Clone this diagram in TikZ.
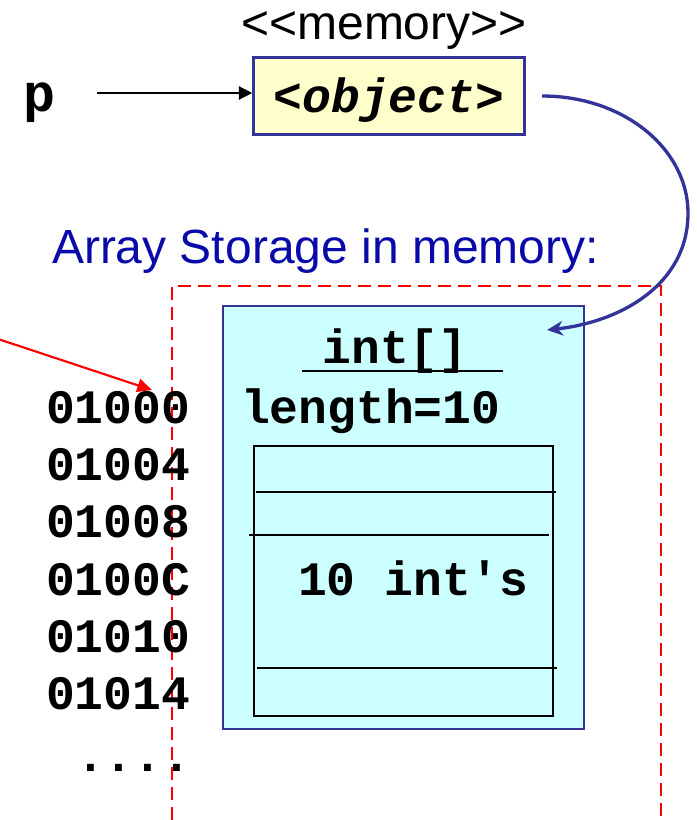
\documentclass[tikz,border=0pt]{standalone}
\usepackage{fontspec}
\setmainfont{Liberation Sans}
\newfontfamily\cour{Liberation Mono}
\usetikzlibrary{arrows.meta}
\definecolor{boxblue}{RGB}{51,51,153}
\definecolor{textblue}{RGB}{10,10,170}
\definecolor{ylw}{RGB}{255,255,204}
\definecolor{cyn}{RGB}{204,255,255}
\newcommand\codefont{\cour\bfseries\fontsize{36}{40}\selectfont}
\newcommand\objfont{\cour\bfseries\itshape\fontsize{36}{40}\selectfont}
\newcommand\bigcodefont{\cour\bfseries\fontsize{40}{44}\selectfont}
\newcommand\sansfont{\fontsize{36}{40}\selectfont}
\begin{document}
\begin{tikzpicture}[x=0.75pt,y=-0.75pt,
  txt/.style={inner sep=0pt, outer sep=0pt},
  code/.style={txt, font=\codefont},
  addr/.style={code, anchor=base west},
  cell/.style={line width=1.5pt, black}]
\useasboundingbox (0,0) rectangle (696,820);
\clip (0,0) rectangle (696,820);

% stereotype and object box
\node[txt, anchor=base, font=\sansfont] (mem) at (384,40) {<{}<memory>{}>};
\node[draw=boxblue, line width=2.2pt, fill=ylw, minimum width=203pt, minimum height=58pt, inner sep=0pt] (obj) at (389,96) {};
\node[txt, anchor=base, font=\objfont] (objtxt) at (389,113) {<object>};

% pointer p
\node[txt, anchor=base, font=\bigcodefont] (p) at (40,112) {p};
\coordinate (ps) at (97,93);
\draw[line width=1pt, -{Triangle[length=10pt,width=10pt]}] (ps) -- (obj.west |- ps);

% caption
\node[txt, anchor=base west, font=\sansfont, text=textblue] (cap) at (52,263) {Array Storage in memory:};

% dashed memory region
\draw[red, line width=1.9pt, dash pattern=on 10pt off 5pt] (172,900) |- (661,286) -- (661,900);

% array object box
\node[draw=boxblue, line width=1.5pt, fill=cyn, minimum width=270.75pt, minimum height=317.25pt, inner sep=0pt] (arr) at (403.5,517.5) {};
\node[code, anchor=base] (type) at (395,363) {int[]};
\draw[line width=1.6pt] (302,371) -- (503,371);
\node[code, anchor=base west] (len) at (241,423) {length=10};
\node[draw, line width=1.5pt, minimum width=224.25pt, minimum height=202.5pt, inner sep=0pt] (cells) at (403.5,581) {};
\draw[cell] (256,492) -- (556,492);
\draw[cell] (249,535) -- (549,535);
\draw[cell] (257,668) -- (557,668);
\node[code, anchor=base west] (ints) at (298,595) {10 int\textquotesingle s};

% addresses
\node[addr] (a0) at (46,423) {01000};
\node[addr] (a1) at (46,480) {01004};
\node[addr] (a2) at (46,537) {01008};
\node[addr] (a3) at (46,595) {0100C};
\node[addr] (a4) at (46,652) {01010};
\node[addr] (a5) at (46,709) {01014};
\node[addr] (a6) at (76,771) {....};

% reference curve
\coordinate (cs) at (542,96);
\coordinate (ce) at (547,330);
\draw[boxblue, line width=2.5pt, -{Stealth[length=12pt,width=11pt]}] (cs) .. controls (625,96) and (688,150) .. (688,213) .. controls (688,285) and (620,322) .. (ce);

% red arrow
\coordinate (rs) at (-5,338);
\coordinate (re) at (152,390);
\draw[red, line width=1.6pt, -{Triangle[length=11pt,width=10pt]}] (rs) -- (re);
\end{tikzpicture}
\end{document}
